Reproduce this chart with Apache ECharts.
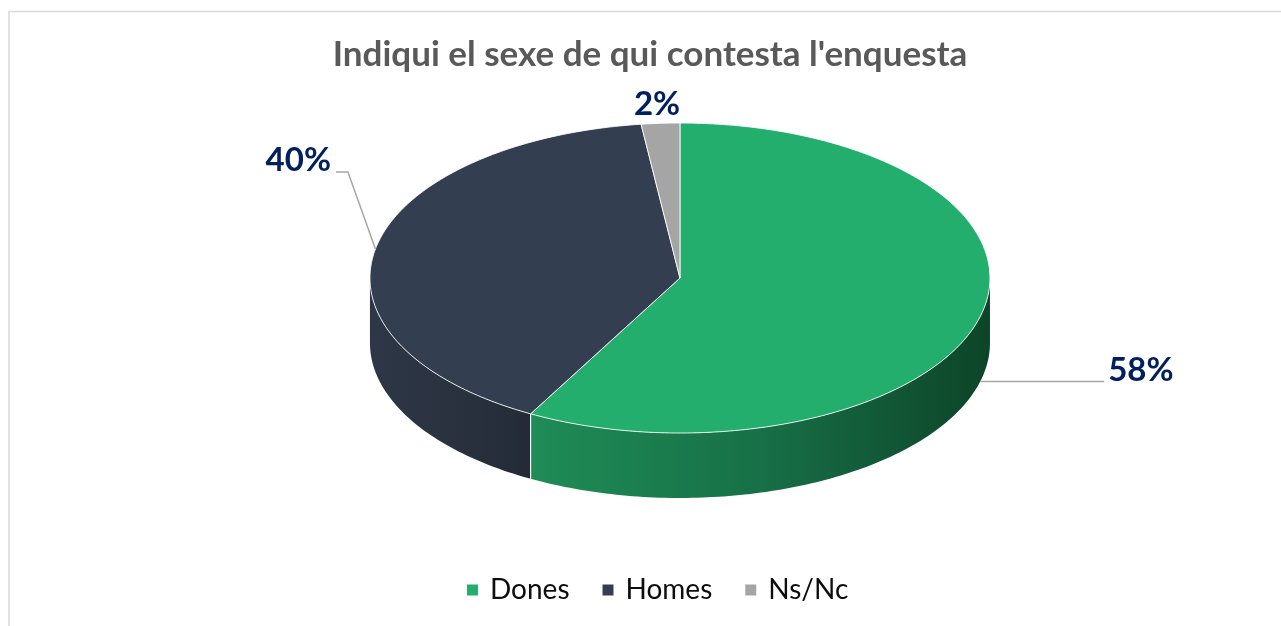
<!DOCTYPE html>
<html><head><meta charset="utf-8">
<script src="https://cdn.jsdelivr.net/npm/echarts@6/dist/echarts.min.js"></script>
<style>html,body{margin:0;padding:0;background:#fff}#chart{width:1281px;height:626px}</style>
</head><body><div id="chart"></div>
<script>
// ---- data ----
const categories = ['Dones', 'Homes', 'Ns/Nc'];
const values = [58, 40, 2];
const titleText = "Indiqui el sexe de qui contesta l'enquesta";

// ---- styles / layout ----
const topColors = ['#23AE6E', '#333E50', '#A5A5A5'];
const sideColors = [
  ['#1F8C56', '#177047', '#0D4428'],
  ['#2E3747', '#2A3240', '#242B37'],
  ['#8C8C8C', '#7A7A7A', '#6A6A6A']
];
const labelLayout = [
  { onSide: true,  line: [[124, 0]], text: [128, -11], align: 'left' },
  { onSide: false, line: [[-27.5, -77], [-39.5, -77]], text: [-44.5, -89], align: 'right' },
  { onSide: false, line: [], text: [-3.5, -19], align: 'center' }
];
const FONT = 'Lato, "Liberation Sans", sans-serif';

const total = values.reduce((a, b) => a + b, 0);
const cum = []; let acc = 0; values.forEach(v => { cum.push(acc); acc += v; });

function geom(api) {
  const W = api.getWidth(), H = api.getHeight();
  return { cx: W * 0.5308, cy: H * 0.4441, rx: W * 0.242, ry: H * 0.2476, depth: H * 0.1038 };
}

function renderItem(params, api) {
  const i = params.dataIndex;
  const v = api.value(0);
  const g = geom(api);
  const TAU = Math.PI * 2;
  const a0 = cum[i] / total * TAU, a1 = (cum[i] + v) / total * TAU;
  const P = (t, d) => [g.cx + g.rx * Math.sin(t), g.cy - g.ry * Math.cos(t) + (d || 0)];
  const arc = (s, e, d) => {
    const n = Math.max(2, Math.ceil((e - s) / (Math.PI / 180)));
    const pts = [];
    for (let k = 0; k <= n; k++) pts.push(P(s + (e - s) * k / n, d));
    return pts;
  };
  const children = [];
  const edge = 'rgba(255,255,255,0.85)';
  // top face
  children.push({
    type: 'polygon', z2: 5,
    shape: { points: [[g.cx, g.cy]].concat(arc(a0, a1)) },
    style: { fill: topColors[i], stroke: edge, lineWidth: 1, lineJoin: 'round' }
  });
  // side wall (front-facing part only)
  const s0 = Math.max(a0, Math.PI / 2), s1 = Math.min(a1, 1.5 * Math.PI);
  if (s1 > s0) {
    const pts = arc(s0, s1).concat(arc(s0, s1, g.depth).reverse());
    children.push({
      type: 'polygon', z2: 1,
      shape: { points: pts },
      style: {
        fill: {
          type: 'linear', x: 0, y: 0, x2: 1, y2: 0,
          colorStops: sideColors[i].map((c, k, arr) => ({ offset: k / (arr.length - 1), color: c }))
        }
      }
    });
    [a0, a1].forEach(t => {
      if (t > Math.PI / 2 + 1e-6 && t < 1.5 * Math.PI - 1e-6) {
        const p = P(t), q = P(t, g.depth);
        children.push({ type: 'line', z2: 3, shape: { x1: p[0], y1: p[1], x2: q[0], y2: q[1] },
          style: { stroke: edge, lineWidth: 1 } });
      }
    });
  }
  // label
  const L = labelLayout[i];
  const mid = (a0 + a1) / 2;
  const anchor = P(mid, L.onSide ? g.depth : 0);
  if (L.line.length) {
    children.push({
      type: 'polyline', z2: 8,
      shape: { points: [anchor].concat(L.line.map(d => [anchor[0] + d[0], anchor[1] + d[1]])) },
      style: { stroke: '#A6A6A6', lineWidth: 1.5, fill: null }
    });
  }
  children.push({
    type: 'text', z2: 10,
    x: anchor[0] + L.text[0], y: anchor[1] + L.text[1],
    style: {
      text: Math.round(v / total * 100) + '%',
      fill: '#002060', fontFamily: FONT, fontWeight: 'bold', fontSize: 33,
      align: L.align, verticalAlign: 'middle'
    }
  });
  return { type: 'group', children };
}

const chart = echarts.init(document.getElementById('chart'), null, { renderer: 'canvas' });
chart.setOption({
  animation: false,
  backgroundColor: '#ffffff',
  title: {
    text: titleText, left: 650, top: 37, padding: 0, textAlign: 'center',
    textStyle: { fontFamily: FONT, fontWeight: 'bold', fontSize: 35, color: '#595959' }
  },
  legend: {
    left: 467, top: 576, padding: 0,
    icon: 'rect', itemWidth: 11, itemHeight: 11, itemGap: 33,
    data: categories,
    textStyle: { fontFamily: FONT, fontSize: 28, color: '#0D0D0D', padding: [0, 0, 0, 7] }
  },
  graphic: [{
    type: 'rect', silent: true, z: -1,
    shape: { x: 9, y: 11.5, width: 1400, height: 800 },
    style: { fill: 'none', stroke: '#D9D9D9', lineWidth: 1.5 }
  }],
  series: [
    {
      type: 'custom', coordinateSystem: 'none', silent: true,
      renderItem: renderItem,
      data: values.map(v => [v])
    },
    {
      type: 'pie', center: [-100, -100], radius: [0, 1], silent: true,
      label: { show: false }, labelLine: { show: false },
      data: categories.map((n, i) => ({ name: n, value: values[i], itemStyle: { color: topColors[i] } }))
    }
  ]
});
</script>
</body></html>
